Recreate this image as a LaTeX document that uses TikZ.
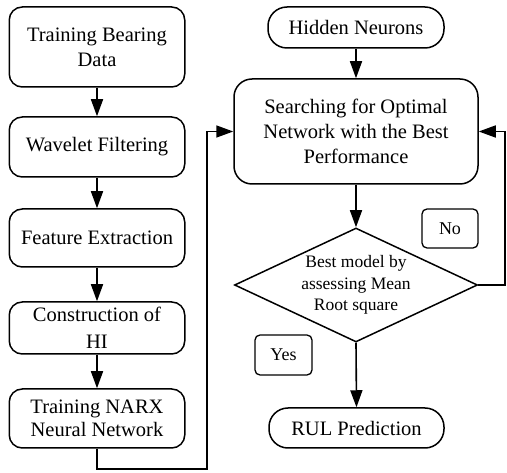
\documentclass[tikz,border=0pt]{standalone}
\usepackage{fontspec}
\setmainfont{Liberation Serif}
\usetikzlibrary{shapes.geometric,arrows.meta}
\tikzset{
  box/.style={draw, line width=1.5pt, rounded corners=13pt, align=center, inner sep=0pt,
    font=\fontsize{20.5}{25}\selectfont},
  pill/.style={box, rounded corners=19pt},
  tag/.style={draw, line width=1.3pt, rounded corners=5pt, inner sep=0pt,
    font=\fontsize{18}{22}\selectfont},
  arr/.style={line width=1.6pt, -{Triangle[length=17pt,width=12pt]}},
}
\begin{document}
\begin{tikzpicture}[x=1pt,y=-1pt]
\useasboundingbox (0,0) rectangle (507,473);
% left column
\node[box, minimum width=175.5pt, minimum height=80pt] (b1) at (97,47) {Training Bearing\\Data};
\node[box, minimum width=175.5pt, minimum height=60pt] (b2) at (97,147) {Wavelet Filtering};
\node[box, minimum width=175.5pt, minimum height=58pt] (b3) at (97,238) {Feature Extraction};
\node[box, minimum width=175.5pt, minimum height=52pt, font=\fontsize{20.5}{27.5}\selectfont] (b4) at (97,328) {Construction of\\HI};
\node[box, minimum width=175.5pt, minimum height=59pt, font=\fontsize{20.5}{22.5}\selectfont] (b5) at (97,418.5) {Training NARX\\Neural Network};
% right column
\node[pill, minimum width=176pt, minimum height=41pt] (hn) at (356,27.5) {Hidden Neurons};
\node[box, rounded corners=18pt, minimum width=244pt, minimum height=105pt] (se) at (356,131.5) {Searching for Optimal\\Network with the Best\\Performance};
\node[draw, line width=1.5pt, diamond, aspect=2.13, inner sep=0pt, minimum width=243pt, minimum height=114pt,
  label={[align=center, font=\fontsize{17.5}{21.7}\selectfont]center:Best model by\\assessing Mean\\Root square}] (di) at (356,285) {};
\node[pill, minimum width=175pt, minimum height=40pt] (ru) at (356.5,428) {RUL Prediction};
\node[tag, minimum width=56pt, minimum height=39pt] (no) at (450,228.5) {No};
\node[tag, minimum width=57pt, minimum height=40pt] (ye) at (283.5,355) {Yes};
% connectors
\draw[arr] (b1) -- (b2);
\draw[arr] (b2) -- (b3);
\draw[arr] (b3) -- (b4);
\draw[arr] (b4) -- (b5);
\coordinate (c1) at (207,469);
\draw[arr] (b5.south) |- (c1) |- (se.west);
\draw[arr] (hn) -- (se);
\draw[arr] (se.south) -- (di.north);
\draw[arr] (di.south) -- (ru.north);
\coordinate (c2) at (505,285);
\draw[arr] (di.east) -- (c2) |- (se.east);
\end{tikzpicture}
\end{document}
